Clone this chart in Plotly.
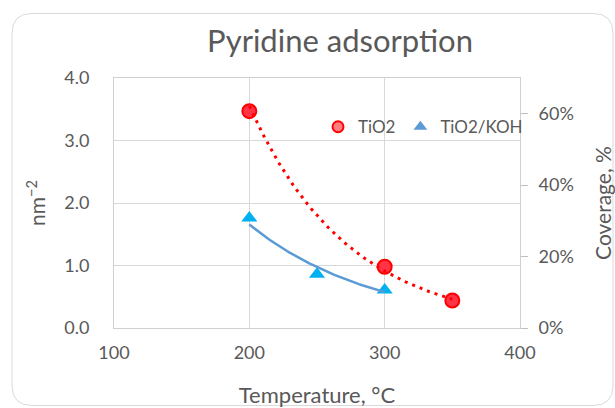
import numpy as np
import plotly.graph_objects as go

# ---- data ----
temp_tio2 = [200, 300, 350]
val_tio2 = [3.47, 0.98, 0.44]
temp_koh = [200, 250, 300]
val_koh = [1.76, 0.86, 0.61]

title_text = "Pyridine adsorption"
x_title = "Temperature, °C"
y_title = "nm<sup>−2</sup>"
y2_title = "Coverage, %"

FONT = "Lato"
GRAY = "#595959"
GRID = "#D9D9D9"


def exp_trend(xs, ys, n=80):
    b, a = np.polyfit(np.array(xs, float), np.log(np.array(ys, float)), 1)
    xx = np.linspace(min(xs), max(xs), n)
    return xx, np.exp(a + b * xx)


fig = go.Figure()

# markers
fig.add_trace(go.Scatter(x=temp_tio2, y=val_tio2, mode="markers", showlegend=False,
                         marker=dict(symbol="circle", size=14, color="#FF3344",
                                     line=dict(color="#FF0000", width=2))))
fig.add_trace(go.Scatter(x=temp_koh, y=val_koh, mode="markers", showlegend=False,
                         marker=dict(symbol="triangle-up", size=14, color="#00B0F0",
                                     line=dict(width=0))))

# trendlines (exponential fits)
tx, ty = exp_trend(temp_tio2, val_tio2)
fig.add_trace(go.Scatter(x=tx, y=ty, mode="lines", showlegend=False, hoverinfo="skip",
                         line=dict(color="#FF0000", width=3, dash="3px,5px")))
kx, ky = exp_trend(temp_koh, val_koh)
fig.add_trace(go.Scatter(x=kx, y=ky, mode="lines", showlegend=False, hoverinfo="skip",
                         line=dict(color="#5B9BD5", width=2.5)))

# legend entries
fig.add_trace(go.Scatter(x=[None], y=[None], mode="markers", name="TiO2",
                         marker=dict(symbol="circle", size=11, color="#FF7C80",
                                     line=dict(color="#FF0000", width=2))))
fig.add_trace(go.Scatter(x=[None], y=[None], mode="markers", name="TiO2/KOH",
                         marker=dict(symbol="triangle-up", size=12, color="#5B9BD5",
                                     line=dict(width=0))))

# secondary axis carrier (invisible)
fig.add_trace(go.Scatter(x=[None], y=[None], yaxis="y2", showlegend=False))

# chart border (rounded rectangle) in paper coords
L, R, T, B = 114.0, 520.0, 77.7, 328.3
W, H = R - L, B - T


def px(x):
    return (x - L) / W


def py(y):
    return (B - y) / H


x0, x1, y0, y1, r = 12, 613, 13, 406, 20
path = (f"M {px(x0)},{py(y0 + r)} Q {px(x0)},{py(y0)} {px(x0 + r)},{py(y0)} "
        f"L {px(x1 - r)},{py(y0)} Q {px(x1)},{py(y0)} {px(x1)},{py(y0 + r)} "
        f"L {px(x1)},{py(y1 - r)} Q {px(x1)},{py(y1)} {px(x1 - r)},{py(y1)} "
        f"L {px(x0 + r)},{py(y1)} Q {px(x0)},{py(y1)} {px(x0)},{py(y1 - r)} Z")
fig.add_shape(type="path", path=path, xref="paper", yref="paper",
              line=dict(color="#D9D9D9", width=1), layer="below")

fig.update_layout(
    width=615, height=408,
    margin=dict(l=L, r=615 - R, t=T, b=408 - B, pad=0, autoexpand=False),
    paper_bgcolor="white", plot_bgcolor="white",
    font=dict(family=FONT, color=GRAY, size=18),
    title=dict(text=title_text, x=340 / 615, xanchor="center",
               y=1 - 41 / 408, yanchor="middle",
               font=dict(family=FONT, size=31, color=GRAY)),
    xaxis=dict(range=[100, 400], dtick=100, tick0=100, showgrid=True, gridcolor=GRID,
               gridwidth=1, showline=True, linecolor="#D0D0D0", linewidth=1, mirror=True,
               ticks="", ticklabelstandoff=8, zeroline=False, automargin=False,
               tickfont=dict(size=18, color=GRAY),
               title=dict(text=x_title, standoff=26, font=dict(size=22, color=GRAY))),
    yaxis=dict(range=[0, 4], dtick=1, tickformat=".1f", showgrid=True, gridcolor=GRID,
               gridwidth=1, showline=True, linecolor="#D0D0D0", linewidth=1, mirror=True,
               ticks="", ticklabelstandoff=20, zeroline=False, automargin=False,
               tickfont=dict(size=18, color=GRAY),
               title=dict(text=y_title, standoff=12, font=dict(size=21, color=GRAY))),
    yaxis2=dict(range=[0, 0.7], dtick=0.2, tickformat=".0%", overlaying="y", side="right",
                showgrid=False, zeroline=False, showline=False, automargin=False,
                ticks="outside", ticklen=7, tickcolor="#BFBFBF", ticklabelstandoff=7,
                tickfont=dict(size=18, color=GRAY),
                title=dict(text=y2_title, standoff=24, font=dict(size=21, color=GRAY))),
    legend=dict(orientation="h", x=px(318), y=py(127), xanchor="left", yanchor="middle",
                bgcolor="rgba(0,0,0,0)", font=dict(size=17, color=GRAY),
                itemwidth=30, tracegroupgap=0),
    showlegend=True,
)

fig.write_html("out.html")
